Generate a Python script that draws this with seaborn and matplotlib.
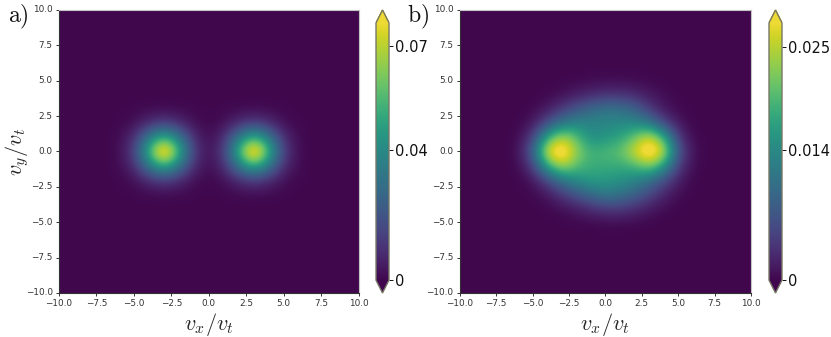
import numpy as np
import matplotlib
matplotlib.use("Agg")
import matplotlib.pyplot as plt
from matplotlib.colors import LinearSegmentedColormap
import seaborn as sns

sns.set_style("white")
plt.rcParams["mathtext.fontset"] = "cm"
plt.rcParams["font.family"] = ["DejaVu Sans"]

# panel a values (1e-3 units), x = -6..6, rows y = 3..-3
rows_a = [
    [0.1, 0.5, 1.0, 1.2, 1.0, 0.5, 0.2, 0.5, 1.0, 1.2, 1.0, 0.5, 0.1],
    [0.5, 1.8, 8, 13, 8, 1.8, 0.5, 1.8, 8, 13, 8, 1.8, 0.5],
    [1.0, 8, 34, 54, 34, 8, 1.0, 8, 34, 54, 34, 8, 1.0],
    [1.2, 13, 54, 100, 54, 13, 1.2, 13, 54, 100, 54, 13, 1.2],
    [1.0, 8, 34, 54, 34, 8, 1.0, 8, 34, 54, 34, 8, 1.0],
    [0.5, 1.8, 8, 13, 8, 1.8, 0.5, 1.8, 8, 13, 8, 1.8, 0.5],
    [0.1, 0.5, 1.0, 1.2, 1.0, 0.5, 0.2, 0.5, 1.0, 1.2, 1.0, 0.5, 0.1],
]
# panel b values (1e-3 units), x = -7..7, rows y = 5..-5
rows_b = [
    [0, 0, 0, 0, 0.1, 0.2, 0.4, 0.5, 0.5, 0.4, 0.2, 0.1, 0, 0, 0],
    [0, 0, 0, 0.2, 0.7, 1.6, 2.6, 3.4, 3.4, 2.6, 1.3, 0.5, 0.1, 0, 0],
    [0, 0, 0.3, 1.4, 4, 7, 9.5, 11, 10.5, 8.5, 4, 1.2, 0.2, 0, 0],
    [0, 0.1, 1.2, 6, 11.5, 13.5, 13.5, 13.5, 14, 14, 11.5, 5, 1.2, 0.1, 0],
    [0, 0.3, 4.5, 18, 25, 20, 14, 15.5, 17, 21, 27, 18, 3.5, 0.3, 0],
    [0, 0.6, 8, 28, 33, 23, 18.5, 19.5, 20.5, 27, 33, 26, 6.5, 0.7, 0],
    [0, 0.3, 4.5, 18, 25, 20, 18, 18, 18, 19, 23, 16, 4, 0.4, 0],
    [0, 0.1, 1, 5.5, 11.5, 14.5, 16.5, 16, 15, 13.5, 10.5, 6, 1.7, 0.1, 0],
    [0, 0, 0.3, 1.2, 4, 7, 10, 12, 11, 8.5, 5.5, 2.2, 0.5, 0, 0],
    [0, 0, 0, 0.2, 0.7, 1.6, 3, 4.2, 4.2, 3, 1.5, 0.5, 0.1, 0, 0],
    [0, 0, 0, 0, 0.1, 0.2, 0.3, 0.4, 0.4, 0.3, 0.1, 0, 0, 0, 0],
]
axis_ticks = [-10.0, -7.5, -5.0, -2.5, 0.0, 2.5, 5.0, 7.5, 10.0]
cbar_ticks_a = [0, 0.04, 0.072]
cbar_labels_a = ["0", "0.04", "0.07"]
cbar_ticks_b = [0, 0.014, 0.025]
cbar_labels_b = ["0", "0.014", "0.025"]
vmax_a = 0.079
vmax_b = 0.0276

W, H = 831, 337


def box(x0, y0, x1, y1):
    return [x0 / W, 1 - y1 / H, (x1 - x0) / W, (y1 - y0) / H]


def full_grid(rows):
    arr = np.array(rows, dtype=float) * 1e-3
    nr, nc = arr.shape
    return np.pad(arr, (((21 - nr) // 2,) * 2, ((21 - nc) // 2,) * 2))


muted = [sns.desaturate(c, 0.85) for c in sns.color_palette("viridis", 256)]
cmap = LinearSegmentedColormap.from_list("muted_viridis", muted, N=256)

fig = plt.figure(figsize=(W / 100, H / 100), dpi=100)


def panel(rows, vmax, ticks, labels, ax_box, cax_box, ylabel):
    ax = fig.add_axes(box(*ax_box))
    cax = fig.add_axes(box(*cax_box))
    grid = full_grid(rows)
    sns.heatmap(grid, ax=ax, cbar_ax=cax, cmap=cmap, vmin=0, vmax=vmax,
                cbar_kws=dict(extend="both", extendfrac=0.05, ticks=ticks))
    mesh = ax.collections[0]
    mesh.set_visible(False)
    ax.imshow(grid, cmap=cmap, vmin=0, vmax=vmax, extent=(0, 21, 21, 0),
              origin="upper", interpolation="bicubic", aspect="auto")
    ax.set_xlim(0.5, 20.5)
    ax.set_ylim(20.5, 0.5)
    lab = [f"{v:.1f}".replace("-", "\u2212") for v in axis_ticks]
    ax.set_xticks([v + 10.5 for v in axis_ticks])
    ax.set_xticklabels(lab, rotation=0)
    ax.set_yticks([10.5 - v for v in axis_ticks])
    ax.set_yticklabels(lab, rotation=0)
    ax.tick_params(labelsize=6.4, length=2.5, width=0.7, pad=2,
                   left=True, bottom=True, colors="#333333")
    for name, sp in ax.spines.items():
        sp.set_visible(True)
        sp.set_linewidth(0.8)
        sp.set_color("#333333" if name in ("left", "bottom") else "#c4c4c4")
    ax.set_xlabel(r"$v_x/v_t$", fontsize=16, labelpad=2)
    if ylabel:
        ax.set_ylabel(r"$v_y/v_t$", fontsize=16, labelpad=-3.5)
    cbar = mesh.colorbar
    cbar.set_ticks(ticks)
    cbar.set_ticklabels(labels)
    cbar.ax.tick_params(labelsize=10.5, length=3, width=0.7, pad=1, colors="#111111")
    cbar.outline.set_edgecolor("#777766")
    cbar.outline.set_linewidth(1.0)
    return ax


panel(rows_a, vmax_a, cbar_ticks_a, cbar_labels_a, (59, 10, 358.5, 293), (376, 10, 389, 293), True)
panel(rows_b, vmax_b, cbar_ticks_b, cbar_labels_b, (459.7, 10, 751, 293), (769, 10, 782, 293), False)

fig.text(8 / W, 1 - 22 / H, r"$\mathrm{a)}$", fontsize=17, color="#111111")
fig.text(407 / W, 1 - 22 / H, r"$\mathrm{b)}$", fontsize=17, color="#111111")

fig.savefig("out.png", dpi=100)
